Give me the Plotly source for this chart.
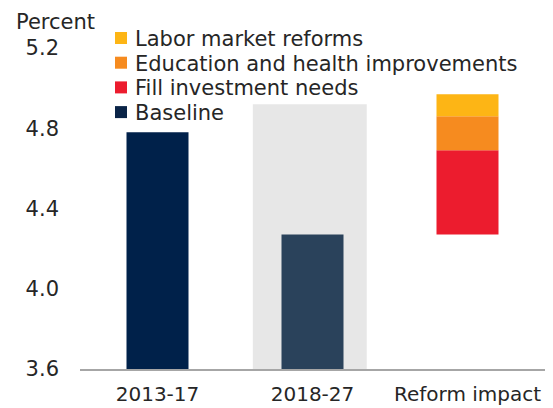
import plotly.graph_objects as go

# ---- data ----
categories = ["2013-17", "2018-27", "Reform impact"]
baseline_periods = ["2013-17", "2018-27"]
baseline_values = [4.78, 4.27]
reform_names = ["Fill investment needs", "Education and health improvements", "Labor market reforms"]
reform_values = [0.42, 0.17, 0.11]
shade_top = 4.92
y_ticks = [3.6, 4.0, 4.4, 4.8, 5.2]
y_tick_labels = ["3.6", "4.0", "4.4", "4.8", "5.2"]
legend_order = ["Labor market reforms", "Education and health improvements",
                "Fill investment needs", "Baseline"]

# ---- style ----
W, H = 553, 408
ML, MR, MT, MB = 80, 8, 48, 39
Y0, Y1 = 3.6, 5.2
FONT = "DejaVu Sans"
TXT = "#262626"
colors = {
    "Labor market reforms": "#FDB515",
    "Education and health improvements": "#F68B1F",
    "Fill investment needs": "#EC1C2E",
    "Baseline": "#0A2447",
}
baseline_bar_colors = ["#00214A", "#2A425B"]

fig = go.Figure()

# grey highlight behind the projection period
fig.add_trace(go.Bar(
    x=["2018-27"], y=[shade_top - Y0], base=[Y0],
    width=0.735, offset=-0.385,
    marker=dict(color="#E7E7E7", line=dict(width=0)),
    showlegend=False, hoverinfo="skip"))

# baseline bars
fig.add_trace(go.Bar(
    x=baseline_periods, y=[v - Y0 for v in baseline_values], base=[Y0] * len(baseline_values),
    width=0.4, offset=-0.2,
    marker=dict(color=baseline_bar_colors, line=dict(width=0)),
    name="Baseline", showlegend=False))

# reform impact stack, starting from the 2018-27 baseline
base = baseline_values[1]
for name, val in zip(reform_names, reform_values):
    fig.add_trace(go.Bar(
        x=["Reform impact"], y=[val], base=[base],
        width=0.4, offset=-0.2,
        marker=dict(color=colors[name], line=dict(width=0)),
        name=name, showlegend=False))
    base += val

# custom legend (compact spacing as in the reference)
pw, ph = W - ML - MR, H - MT - MB
def px_x(p):
    return (p - ML) / pw
def px_y(p):
    return (H - MB - p) / ph

leg_x0, leg_sq, leg_y0, leg_dy, leg_text_x = 115, 12, 38, 24.7, 133
for i, name in enumerate(legend_order):
    cy = leg_y0 + i * leg_dy
    fig.add_shape(type="rect", xref="paper", yref="paper",
                  x0=px_x(leg_x0), x1=px_x(leg_x0 + leg_sq),
                  y0=px_y(cy + leg_sq / 2), y1=px_y(cy - leg_sq / 2),
                  fillcolor=colors[name], line=dict(width=0), layer="above")
    fig.add_annotation(text=name, xref="paper", yref="paper",
                       x=px_x(leg_text_x), y=px_y(cy + 1), xanchor="left", yanchor="middle",
                       showarrow=False, font=dict(family=FONT, size=21, color=TXT))

# "Percent" unit label
fig.add_annotation(text="Percent", xref="paper", yref="paper",
                   x=px_x(14), y=px_y(22), xanchor="left", yanchor="middle",
                   showarrow=False, font=dict(family=FONT, size=21, color=TXT))

fig.update_layout(
    width=W, height=H,
    margin=dict(l=ML, r=MR, t=MT, b=MB, pad=0, autoexpand=False),
    paper_bgcolor="white", plot_bgcolor="white",
    barmode="overlay",
    showlegend=False,
    font=dict(family=FONT, size=20, color=TXT),
    xaxis=dict(categoryorder="array", categoryarray=categories,
               range=[-0.5, 2.5], showline=True, linecolor="#A6A6A6", linewidth=2,
               ticks="", showgrid=False, zeroline=False, ticklabelstandoff=6,
               automargin=False,
               tickfont=dict(family=FONT, size=20, color=TXT)),
    yaxis=dict(range=[Y0, Y1], tickvals=y_ticks, ticktext=y_tick_labels,
               showline=False, showgrid=False, zeroline=False, ticks="",
               ticklabelstandoff=20, automargin=False,
               tickfont=dict(family=FONT, size=21, color=TXT)),
)

fig.write_html("out.html", config={"displayModeBar": False},
               post_script="document.body.style.margin='0';document.body.style.overflow='hidden';")
